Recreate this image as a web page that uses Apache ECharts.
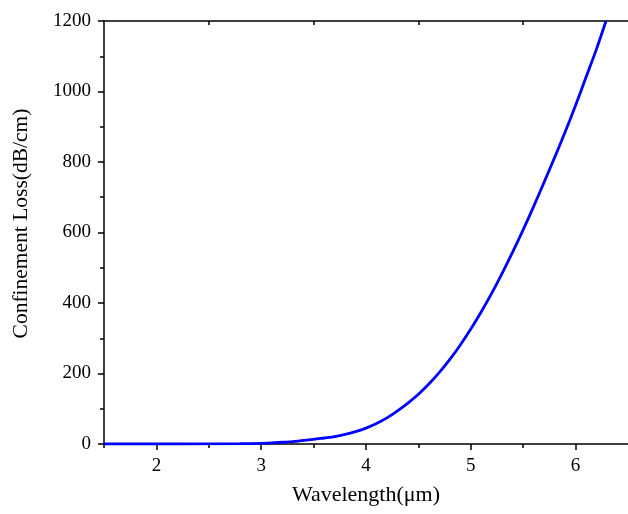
<!DOCTYPE html>
<html>
<head>
<meta charset="utf-8">
<script src="https://cdn.jsdelivr.net/npm/echarts@6/dist/echarts.min.js"></script>
<style>html,body{margin:0;padding:0;background:#fff}#c{width:628px;height:514px}</style>
</head>
<body>
<div id="c"></div>
<script>
const wavelength = [1.5, 2.0, 2.5, 2.8, 3.0, 3.1, 3.2, 3.3, 3.4, 3.5, 3.6, 3.7, 3.8, 3.9, 4.0, 4.1, 4.2, 4.3, 4.4, 4.5, 4.6, 4.7, 4.8, 4.9, 5.0, 5.1, 5.2, 5.3, 5.4, 5.5, 5.6, 5.7, 5.8, 5.9, 6.0, 6.1, 6.2, 6.29];
const loss = [0, 0, 0.2, 0.8, 2, 3, 5, 7, 10, 13, 17, 21, 27, 35, 45, 58, 74, 94, 116, 141, 170, 203, 240, 281, 326, 375, 428, 485, 545, 608, 674, 743, 813, 885, 961, 1041, 1121, 1200];
const xMajorTicks = [2, 3, 4, 5, 6];
const xMinorTicks = [1.5, 2.5, 3.5, 4.5, 5.5];
const topTicks = [2.5, 3.5, 4.5, 5.5];
const xTitle = 'Wavelength(\u03bcm)';
const yTitle = 'Confinement Loss(dB/cm)';

const font = 'Liberation Serif';
const chart = echarts.init(document.getElementById('c'), null, {renderer: 'canvas'});
const data = wavelength.map((w, i) => [w, loss[i]]);
chart.setOption({
  animation: false,
  backgroundColor: '#fff',
  grid: {left: 104, right: 0, top: 21, bottom: 70, containLabel: false},
  xAxis: [
    {
      type: 'value', min: 1.5, max: 6.5, position: 'bottom',
      name: xTitle, nameLocation: 'middle', nameGap: 40,
      nameTextStyle: {fontFamily: font, fontSize: 22, color: '#000'},
      axisLine: {show: true, onZero: false, lineStyle: {color: '#000', width: 1.5}},
      axisTick: {show: true, inside: false, length: 6, customValues: xMajorTicks, lineStyle: {color: '#000', width: 1.5}},
      axisLabel: {show: true, margin: 13, customValues: xMajorTicks, fontFamily: font, fontSize: 19, color: '#000'},
      splitLine: {show: false}
    },
    {
      type: 'value', min: 1.5, max: 6.5, position: 'bottom',
      axisLine: {show: false, onZero: false},
      axisTick: {show: true, inside: false, length: 4, customValues: xMinorTicks, lineStyle: {color: '#000', width: 1.5}},
      axisLabel: {show: false},
      splitLine: {show: false}
    },
    {
      type: 'value', min: 1.5, max: 6.5, position: 'top',
      axisLine: {show: true, onZero: false, lineStyle: {color: '#000', width: 1.5}},
      axisTick: {show: true, inside: true, length: 4, customValues: topTicks, lineStyle: {color: '#000', width: 1.5}},
      axisLabel: {show: false},
      splitLine: {show: false}
    }
  ],
  yAxis: {
    type: 'value', min: 0, max: 1200, interval: 200,
    name: yTitle, nameLocation: 'middle', nameGap: 72,
    nameTextStyle: {fontFamily: font, fontSize: 21.5, color: '#000', padding: [0, 0, 0, 18]},
    axisLine: {show: true, onZero: false, lineStyle: {color: '#000', width: 1.5}},
    axisTick: {show: true, inside: false, length: 6, lineStyle: {color: '#000', width: 1.5}},
    minorTick: {show: true, splitNumber: 2, length: 4, lineStyle: {color: '#000', width: 1.5}},
    axisLabel: {margin: 13, fontFamily: font, fontSize: 19, color: '#000', formatter: v => String(v)},
    splitLine: {show: false},
    minorSplitLine: {show: false}
  },
  series: [{
    type: 'line', xAxisIndex: 0, data: data, smooth: 0.3, showSymbol: false,
    lineStyle: {color: '#0000ff', width: 2.8}, clip: true
  }]
});
</script>
</body>
</html>
